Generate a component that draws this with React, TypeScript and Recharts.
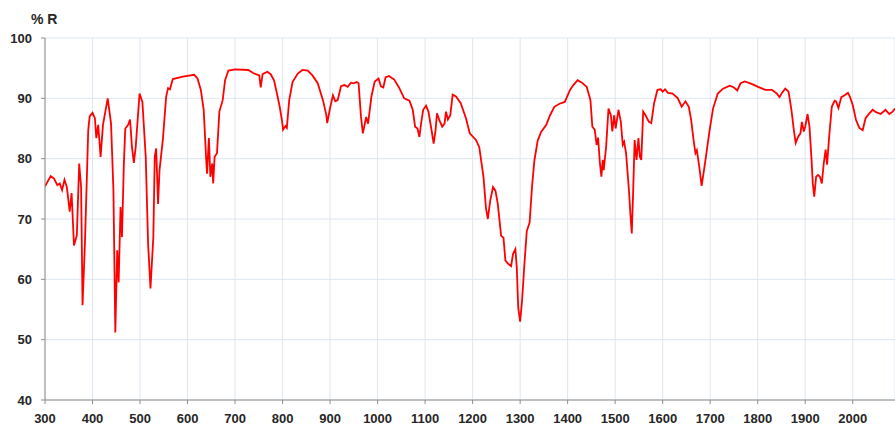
import React from 'react';
import { LineChart, Line, XAxis, YAxis, CartesianGrid } from 'recharts';

const wavenumber = [
  300, 312, 319, 326, 331, 336, 341, 346, 352, 356, 361, 367, 372, 376, 379, 384, 391, 394, 400, 405,
  408, 412, 417, 422, 432, 439, 444, 448, 452, 455, 459, 462, 466, 469, 475, 479, 483, 487, 491, 499,
  505, 512, 517, 522, 528, 531, 534, 538, 541, 548, 555, 559, 563, 569, 590, 614, 621, 628, 634, 639,
  641, 645, 648, 652, 654, 657, 662, 667, 674, 679, 686, 700, 728, 738, 744, 751, 754, 758, 768, 775,
  782, 789, 794, 799, 801, 806, 809, 814, 821, 832, 842, 853, 863, 874, 885, 892, 894, 900, 906, 911,
  916, 923, 930, 937, 944, 949, 956, 960, 965, 969, 976, 980, 987, 994, 1002, 1007, 1012, 1017, 1024, 1035,
  1045, 1056, 1067, 1074, 1079, 1084, 1088, 1092, 1096, 1102, 1107, 1113, 1118, 1122, 1125, 1130, 1136, 1141, 1144, 1148,
  1153, 1158, 1165, 1175, 1186, 1194, 1207, 1214, 1223, 1228, 1232, 1237, 1243, 1248, 1253, 1260, 1265, 1269, 1276, 1281,
  1285, 1290, 1293, 1296, 1300, 1304, 1309, 1314, 1320, 1325, 1330, 1337, 1344, 1355, 1363, 1372, 1383, 1394, 1405, 1412,
  1421, 1430, 1440, 1448, 1452, 1457, 1461, 1464, 1468, 1471, 1474, 1476, 1481, 1486, 1491, 1494, 1498, 1501, 1507, 1512,
  1516, 1519, 1523, 1529, 1532, 1535, 1538, 1541, 1545, 1549, 1552, 1555, 1559, 1564, 1571, 1576, 1582, 1589, 1596, 1600,
  1605, 1611, 1621, 1632, 1640, 1648, 1655, 1660, 1665, 1669, 1672, 1677, 1682, 1687, 1691, 1699, 1706, 1716, 1727, 1741,
  1750, 1757, 1764, 1773, 1787, 1801, 1816, 1830, 1840, 1846, 1851, 1858, 1865, 1871, 1876, 1880, 1885, 1890, 1893, 1897,
  1900, 1905, 1909, 1913, 1916, 1919, 1923, 1927, 1931, 1935, 1939, 1943, 1946, 1951, 1956, 1962, 1965, 1970, 1976, 1983,
  1990, 1994, 2000, 2007, 2014, 2021, 2027, 2035, 2042, 2049, 2059, 2069, 2077, 2084, 2089,
];

const reflectance = [
  75.4, 77.1, 76.7, 75.6, 75.9, 74.8, 76.5, 75.3, 71.2, 74.3, 65.6, 67.3, 79.2, 75.3, 55.7, 65.9, 84.7, 87, 87.6, 86.7,
  83.4, 85.6, 80.3, 85.6, 90, 85.8, 74.8, 51.2, 64.8, 59.5, 72, 67, 79.2, 85, 85.6, 86.5, 82, 79.3, 82, 90.8,
  89.4, 80.3, 65.9, 58.5, 67, 80.3, 81.7, 72.5, 78.1, 83.1, 90.3, 91.7, 91.5, 93.2, 93.6, 93.9, 93.3, 91.4, 88.1, 80.3,
  77.5, 83.4, 77, 79.2, 75.9, 80.3, 80.9, 87.8, 89.7, 93, 94.6, 94.8, 94.7, 94.2, 94, 93.8, 91.8, 94, 94.4, 94,
  93, 90.5, 88.6, 86.2, 84.8, 85.4, 85.1, 89.7, 92.7, 94.1, 94.7, 94.6, 93.8, 92.5, 89.7, 87.3, 85.9, 88.4, 90.5, 89.5,
  89.7, 92, 92.2, 91.9, 92.6, 92.5, 92.7, 92.5, 87, 84.2, 86.9, 85.8, 90.3, 92.8, 93.3, 92, 91.8, 93.5, 93.7, 93.1,
  91.8, 90, 89.6, 88.1, 85.3, 85, 83.6, 86.1, 88.1, 88.8, 87.8, 85, 82.5, 84.7, 87.5, 86.4, 85.3, 85.8, 87.8, 86.5,
  87.2, 90.6, 90.3, 89.2, 86.7, 84.2, 83.1, 81.9, 76.9, 71.9, 70, 73, 75.3, 74.7, 72.5, 67.2, 66.9, 63.1, 62.5, 62.2,
  64.2, 65, 61.9, 55.3, 53, 56.4, 62.5, 68, 69.4, 75.3, 79.7, 83, 84.4, 85.6, 87.2, 88.6, 89.1, 89.4, 91.4, 92.2,
  93, 92.6, 91.9, 89.7, 85.3, 84.8, 82.3, 83.5, 79.2, 77, 79.8, 78.1, 82, 88.3, 87.2, 84.5, 87.2, 85, 88.1, 86.1,
  82.3, 82.8, 80.9, 74.8, 70.9, 67.6, 74.8, 83.1, 79.8, 83.4, 80.3, 79.8, 87.8, 87.2, 86.1, 85.9, 89.2, 91.4, 91.5, 91.1,
  91.5, 90.9, 90.8, 90, 88.6, 89.5, 88.6, 86.4, 83.1, 80.9, 81.4, 78.7, 75.5, 78.1, 80.3, 84.8, 88.3, 90.8, 91.6, 92.1,
  91.8, 91.3, 92.5, 92.8, 92.4, 91.9, 91.4, 91.4, 90.8, 90.2, 90.9, 91.6, 91.1, 88.1, 84.8, 82.6, 83.6, 84.2, 86.1, 84.5,
  85.3, 87.4, 85.3, 80.3, 75.9, 73.7, 77, 77.3, 77, 75.9, 79.2, 81.5, 79, 84.2, 88.6, 89.6, 89.5, 88.4, 90.2, 90.5,
  90.9, 90.3, 88.9, 86.4, 85.1, 84.7, 86.7, 87.5, 88.1, 87.7, 87.4, 88.1, 87.4, 87.8, 88.3,
];

const xTicks = [300, 400, 500, 600, 700, 800, 900, 1000, 1100, 1200, 1300, 1400, 1500, 1600, 1700, 1800, 1900, 2000];
const xMinorTicks = [300, 350, 400, 450, 500, 550, 600, 650, 700, 750, 800, 850, 900, 950, 1000, 1050, 1100, 1150, 1200, 1250, 1300, 1350, 1400, 1450, 1500, 1550, 1600, 1650, 1700, 1750, 1800, 1850, 1900, 1950, 2000, 2050];
const yTicks = [40, 50, 60, 70, 80, 90, 100];
const xDomain = [300, 2089];
const yDomain = [40, 100];
const yLabel = '% R';

const data = wavenumber.map((w, i) => ({ w, r: reflectance[i] }));

const tickFont = { fontFamily: 'Liberation Sans, Arial, sans-serif', fontSize: 13, fontWeight: 700, fill: '#262626' };
const axisGray = '#8c8c8c';
const gridBlue = '#dce6f2';

export default function App() {
  return (
    <div style={{ position: 'absolute', left: 0, top: 0, width: 895, height: 428, background: '#fff' }}>
      <LineChart width={895} height={428} data={data} margin={{ top: 38, right: 0, bottom: 0, left: 0 }}>
        <CartesianGrid stroke={gridBlue} strokeWidth={1} />
        <XAxis
          xAxisId={0}
          dataKey="w"
          type="number"
          domain={xDomain}
          allowDataOverflow
          ticks={xTicks}
          interval={0}
          height={28}
          tick={tickFont}
          tickSize={4}
          tickMargin={10}
          axisLine={{ stroke: axisGray }}
          tickLine={{ stroke: axisGray }}
        />
        <XAxis
          xAxisId="minor"
          dataKey="w"
          type="number"
          domain={xDomain}
          allowDataOverflow
          ticks={xMinorTicks}
          interval={0}
          height={0}
          tick={false}
          tickSize={4}
          axisLine={false}
          tickLine={{ stroke: axisGray }}
        />
        <XAxis
          xAxisId="top"
          orientation="top"
          dataKey="w"
          type="number"
          domain={xDomain}
          allowDataOverflow
          height={0}
          tick={false}
          tickLine={false}
          axisLine={{ stroke: axisGray }}
        />
        <YAxis
          type="number"
          domain={yDomain}
          ticks={yTicks}
          interval={0}
          width={45}
          tick={tickFont}
          tickSize={4}
          tickMargin={9}
          axisLine={{ stroke: axisGray }}
          tickLine={{ stroke: axisGray }}
        />
        <Line
          xAxisId={0}
          type="linear"
          dataKey="r"
          stroke="#ff0000"
          strokeWidth={1.8}
          dot={false}
          isAnimationActive={false}
        />
        <text x={31} y={24} style={{ fontFamily: 'Liberation Sans, Arial, sans-serif', fontSize: 14, fontWeight: 700, fill: '#262626' }}>
          {yLabel}
        </text>
      </LineChart>
    </div>
  );
}
